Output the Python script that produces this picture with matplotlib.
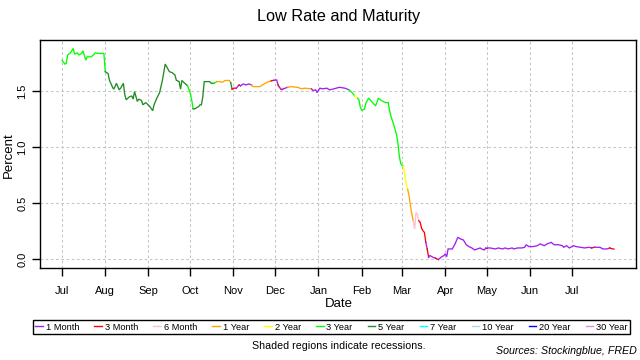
import matplotlib
matplotlib.use("Agg")
import matplotlib.pyplot as plt
import matplotlib.dates as mdates
from matplotlib.lines import Line2D
import pandas as pd

plt.rcParams['font.family'] = ['Liberation Sans', 'DejaVu Sans']

maturities = ["1 Month", "3 Month", "6 Month", "1 Year", "2 Year", "3 Year",
              "5 Year", "7 Year", "10 Year", "20 Year", "30 Year"]
mat_colors = ["#A020F0", "#FF0000", "#FFC0CB", "#FFA500", "#FFFF00", "#00FF00",
              "#228B22", "#00FFFF", "#ADD8E6", "#0000FF", "#EE82EE"]

dates = [
    "2019-07-01", "2019-07-03", "2019-07-04", "2019-07-05", "2019-07-07", "2019-07-09",
    "2019-07-10", "2019-07-12", "2019-07-13", "2019-07-15", "2019-07-16", "2019-07-18",
    "2019-07-19", "2019-07-22", "2019-07-25", "2019-07-27", "2019-07-31", "2019-08-01",
    "2019-08-03", "2019-08-04", "2019-08-06", "2019-08-07", "2019-08-08", "2019-08-09",
    "2019-08-11", "2019-08-12", "2019-08-14", "2019-08-15", "2019-08-16", "2019-08-18",
    "2019-08-20", "2019-08-21", "2019-08-22", "2019-08-24", "2019-08-25", "2019-08-27",
    "2019-08-28", "2019-08-30", "2019-09-02", "2019-09-04", "2019-09-05", "2019-09-07",
    "2019-09-09", "2019-09-11", "2019-09-13", "2019-09-15", "2019-09-16", "2019-09-18",
    "2019-09-20", "2019-09-21", "2019-09-23", "2019-09-24", "2019-09-25", "2019-09-27",
    "2019-09-29", "2019-10-01", "2019-10-02", "2019-10-03", "2019-10-04", "2019-10-07",
    "2019-10-08", "2019-10-09", "2019-10-10", "2019-10-11", "2019-10-15", "2019-10-16",
    "2019-10-18", "2019-10-20", "2019-10-22", "2019-10-24", "2019-10-26", "2019-10-29",
    "2019-10-30", "2019-10-31", "2019-11-01", "2019-11-03", "2019-11-05", "2019-11-06",
    "2019-11-08", "2019-11-10", "2019-11-12", "2019-11-14", "2019-11-15", "2019-11-20",
    "2019-11-23", "2019-11-25", "2019-11-28", "2019-11-30", "2019-12-02", "2019-12-03",
    "2019-12-04", "2019-12-05", "2019-12-06", "2019-12-08", "2019-12-10", "2019-12-12",
    "2019-12-17", "2019-12-20", "2019-12-22", "2019-12-27", "2019-12-28", "2019-12-30",
    "2019-12-31", "2020-01-02", "2020-01-04", "2020-01-07", "2020-01-09", "2020-01-12",
    "2020-01-16", "2020-01-20", "2020-01-23", "2020-01-25", "2020-01-27", "2020-01-29",
    "2020-01-30", "2020-01-31", "2020-02-01", "2020-02-03", "2020-02-04", "2020-02-06",
    "2020-02-08", "2020-02-11", "2020-02-13", "2020-02-15", "2020-02-18", "2020-02-20",
    "2020-02-21", "2020-02-22", "2020-02-23", "2020-02-24", "2020-02-25", "2020-02-26",
    "2020-02-27", "2020-02-28", "2020-02-29", "2020-03-01", "2020-03-02", "2020-03-03",
    "2020-03-04", "2020-03-05", "2020-03-06", "2020-03-07", "2020-03-08", "2020-03-09",
    "2020-03-10", "2020-03-11", "2020-03-12", "2020-03-13", "2020-03-14", "2020-03-15",
    "2020-03-16", "2020-03-17", "2020-03-18", "2020-03-19", "2020-03-20", "2020-03-21",
    "2020-03-23", "2020-03-25", "2020-03-27", "2020-03-29", "2020-03-31", "2020-04-01",
    "2020-04-02", "2020-04-03", "2020-04-06", "2020-04-08", "2020-04-10", "2020-04-12",
    "2020-04-14", "2020-04-16", "2020-04-18", "2020-04-20", "2020-04-22", "2020-04-24",
    "2020-04-26", "2020-04-27", "2020-04-29", "2020-04-30", "2020-05-01", "2020-05-03",
    "2020-05-07", "2020-05-09", "2020-05-12", "2020-05-14", "2020-05-16", "2020-05-19",
    "2020-05-20", "2020-05-23", "2020-05-26", "2020-05-28", "2020-05-29", "2020-05-31",
    "2020-06-03", "2020-06-06", "2020-06-08", "2020-06-11", "2020-06-13", "2020-06-16",
    "2020-06-18", "2020-06-21", "2020-06-24", "2020-06-25", "2020-06-27", "2020-06-29",
    "2020-07-02", "2020-07-04", "2020-07-07", "2020-07-10", "2020-07-13", "2020-07-15",
    "2020-07-17", "2020-07-21", "2020-07-23", "2020-07-26", "2020-07-28", "2020-07-30",
    "2020-07-31",
]

low_rate = [
    1.78, 1.745, 1.75, 1.826, 1.846, 1.885,
    1.834, 1.846, 1.826, 1.84, 1.864, 1.78,
    1.81, 1.81, 1.846, 1.84, 1.84, 1.677,
    1.66, 1.60, 1.543, 1.52, 1.543, 1.573,
    1.514, 1.529, 1.573, 1.47, 1.425, 1.449,
    1.46, 1.431, 1.499, 1.41, 1.431, 1.419,
    1.38, 1.40, 1.365, 1.327, 1.38, 1.44,
    1.49, 1.60, 1.745, 1.70, 1.677, 1.668,
    1.647, 1.60, 1.588, 1.52, 1.598, 1.573,
    1.552, 1.484, 1.425, 1.345, 1.342, 1.365,
    1.38, 1.38, 1.454, 1.588, 1.588, 1.573,
    1.573, 1.588, 1.588, 1.582, 1.598, 1.598,
    1.579, 1.52, 1.529, 1.529, 1.558, 1.55,
    1.567, 1.558, 1.567, 1.558, 1.543, 1.543,
    1.567, 1.582, 1.594, 1.60, 1.603, 1.558,
    1.537, 1.52, 1.52, 1.529, 1.537, 1.543,
    1.537, 1.523, 1.529, 1.523, 1.508, 1.514,
    1.49, 1.529, 1.523, 1.529, 1.514, 1.523,
    1.537, 1.529, 1.514, 1.49, 1.46, 1.44,
    1.425, 1.36, 1.33, 1.342, 1.395, 1.44,
    1.41, 1.371, 1.44, 1.419, 1.40, 1.40,
    1.33, 1.277, 1.24, 1.202, 1.158, 1.113,
    1.039, 0.92, 0.855, 0.837, 0.831, 0.742,
    0.668, 0.623, 0.564, 0.475, 0.40, 0.341,
    0.267, 0.416, 0.40, 0.341, 0.327, 0.273,
    0.252, 0.237, 0.148, 0.089, 0.015, 0.03,
    0.015, 0.006, -0.006, 0.015, 0.03, 0.045,
    0.02, 0.089, 0.089, 0.134, 0.193, 0.178,
    0.169, 0.127, 0.11, 0.098, 0.08, 0.089,
    0.098, 0.089, 0.08, 0.098, 0.098, 0.098,
    0.089, 0.098, 0.089, 0.098, 0.089, 0.098,
    0.089, 0.098, 0.098, 0.104, 0.127, 0.11,
    0.11, 0.118, 0.134, 0.118, 0.134, 0.148,
    0.127, 0.127, 0.118, 0.104, 0.118, 0.098,
    0.118, 0.11, 0.104, 0.098, 0.104, 0.098,
    0.104, 0.104, 0.089, 0.089, 0.098, 0.089,
    0.089,
]

low_maturity = (
    ["3 Year"] * 18
    + ["5 Year"] * 37
    + ["3 Year"] * 3
    + ["5 Year"] * 9
    + ["3 Year"]
    + ["1 Year"] * 5
    + ["5 Year"]
    + ["3 Month", "3 Month", "1 Month", "3 Month", "1 Month", "1 Month", "1 Month", "1 Month"]
    + ["1 Year"] * 5
    + ["3 Month", "1 Month", "1 Month", "3 Month", "1 Month", "3 Month", "1 Month", "1 Month"]
    + ["1 Year"] * 5
    + ["1 Month"] * 11
    + ["3 Year", "3 Year", "2 Year"]
    + ["3 Year"] * 23
    + ["2 Year"] * 3
    + ["1 Year"] * 4
    + ["6 Month"] * 4
    + ["3 Month"] * 5
    + ["1 Month", "3 Month", "1 Month", "1 Month", "1 Month", "3 Month"]
    + ["1 Month"] * 19
    + ["3 Month"]
    + ["1 Month"] * 31
    + ["3 Month", "1 Month", "1 Month", "1 Month", "1 Month", "3 Month", "3 Month"]
)

df = pd.DataFrame({"date": pd.to_datetime(dates), "rate": low_rate, "mat": low_maturity})
color_of = dict(zip(maturities, mat_colors))

fig = plt.figure(figsize=(6.4, 3.6), dpi=100)
ax = fig.add_axes([40 / 640, 1 - 268 / 360, 596 / 640, 228 / 360])

# draw runs of the same maturity, each connected to the previous point
n = len(df)
start = 0
while start < n:
    end = start
    while end + 1 < n and df["mat"].iloc[end + 1] == df["mat"].iloc[start]:
        end += 1
    lo = max(start - 1, 0)
    seg = df.iloc[lo:end + 1]
    ax.plot(seg["date"], seg["rate"], color=color_of[df["mat"].iloc[start]],
            linewidth=0.95, solid_joinstyle="miter")
    start = end + 1

ax.margins(x=0.04, y=0.04)

months = pd.date_range("2019-07-01", "2020-07-01", freq="MS")
ax.set_xticks(months)
ax.xaxis.set_major_formatter(mdates.DateFormatter("%b"))
ax.set_yticks([0.0, 0.5, 1.0, 1.5])
ax.set_yticklabels(["0.0", "0.5", "1.0", "1.5"], rotation=90, va="center")

ax.grid(True, color="#C4C4C4", linestyle=(0, (2.5, 2.5)), linewidth=0.75)
ax.set_axisbelow(True)
ax.tick_params(direction="out", length=6, width=1, labelsize=8, pad=3, colors="black")
ax.tick_params(axis="x", pad=7)
for s in ax.spines.values():
    s.set_linewidth(1)
    s.set_color("black")

fig.text(339 / 640, 1 - 16 / 360, "Low Rate and Maturity", ha="center", va="center", fontsize=11.7)
fig.text(339 / 640, 1 - 304 / 360, "Date", ha="center", va="center", fontsize=9.5)
fig.text(9 / 640, 1 - 155 / 360, "Percent", ha="center", va="center", rotation=90, fontsize=9.5)

handles = [Line2D([0], [0], color=c, lw=1) for c in mat_colors]
leg = fig.legend(handles, maturities, ncol=11, loc="lower left",
                 bbox_to_anchor=(33 / 640, 1 - 334 / 360, 597 / 640, 15 / 360),
                 mode="expand", fontsize=6.7, handlelength=0.8, handletextpad=0.3,
                 columnspacing=0.6, borderpad=0.25, borderaxespad=0.0,
                 fancybox=False, edgecolor="black", framealpha=1)
leg.get_frame().set_linewidth(1)

fig.text(339 / 640, 1 - 346 / 360, "Shaded regions indicate recessions.",
         ha="center", va="center", fontsize=7.7)
fig.text(637 / 640, 1 - 351 / 360, "Sources: Stockingblue, FRED",
         ha="right", va="center", fontsize=7.7, style="italic")

fig.savefig("out.png", dpi=100)
